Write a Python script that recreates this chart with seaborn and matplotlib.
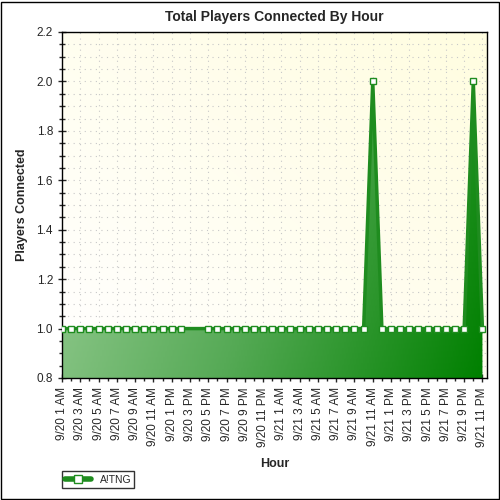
import numpy as np
import pandas as pd
import matplotlib
matplotlib.use('Agg')
import matplotlib.pyplot as plt
import seaborn as sns
from matplotlib.colors import LinearSegmentedColormap
from matplotlib.ticker import MultipleLocator
from matplotlib.lines import Line2D

def hour_label(day, h):
    ampm = 'AM' if h < 12 else 'PM'
    hh = h % 12
    if hh == 0:
        hh = 12
    return '9/%d %d %s' % (day, hh, ampm)

hours = [hour_label(20, h) for h in range(1, 24)] + [hour_label(21, h) for h in range(0, 24)]
players = [1.0] * 47
players[34] = 2.0
players[45] = 2.0
# no samples at 9/20 3 PM and 4 PM
marker_vals = list(players)
marker_vals[14] = np.nan
marker_vals[15] = np.nan

df = pd.DataFrame({'x': np.arange(len(hours)), 'y': players, 'm': marker_vals})

sns.set_style('white')
plt.rcParams['font.family'] = ['Liberation Sans', 'DejaVu Sans']
fig = plt.figure(figsize=(5, 5), dpi=100)
ax = fig.add_axes([0.124, 0.244, 0.85, 0.692])
ymin, ymax = 0.8, 2.2
xmin, xmax = 0, 46.5
ax.set_xlim(xmin, xmax)
ax.set_ylim(ymin, ymax)

# background gradient
bg = LinearSegmentedColormap.from_list('bg', ['#ffffff', '#fffde0'])
gx, gy = np.meshgrid(np.linspace(0, 1, 200), np.linspace(0, 1, 200))
ax.imshow((gx + gy) / 2, cmap=bg, extent=[xmin, xmax, ymin, ymax], aspect='auto', origin='lower', zorder=0)

# fill gradient
gc = LinearSegmentedColormap.from_list('gc', ['#9ccf98', '#56aa56', '#008000'])
poly = ax.fill_between(df['x'], ymin, df['y'], color='none', zorder=1)
img = ax.imshow((gx * 0.8 + (1 - gy) * 0.2), cmap=gc, extent=[0, 46, ymin, 2.0], aspect='auto', origin='lower', zorder=1)
img.set_clip_path(poly.get_paths()[0], transform=ax.transData)

ax.grid(True, axis='x', which='major', color='#c8c8c8', linestyle=(0, (1, 4)), linewidth=0.8, zorder=0.5)
ax.grid(True, axis='y', which='both', color='#c8c8c8', linestyle=(0, (1, 4)), linewidth=0.8, zorder=0.5)
ax.set_axisbelow(True)
sns.lineplot(data=df, x='x', y='y', color='#1f8c1f', linewidth=2.5, ax=ax, zorder=2, legend=False)
ax.plot(df['x'], df['m'], linestyle='none', marker='s', markersize=5, markerfacecolor='white',
        markeredgecolor='#1f8c1f', markeredgewidth=1, zorder=3)

ax.set_xticks(np.arange(0, 47, 2))
ax.set_xticks(np.arange(0, 47, 1), minor=True)
ax.set_xticklabels(hours[::2], rotation=90, fontsize=8.5)
ax.yaxis.set_major_locator(MultipleLocator(0.2))
ax.yaxis.set_minor_locator(MultipleLocator(0.05))
ax.set_yticklabels(['%.1f' % v for v in ax.get_yticks()], fontsize=8.5)
ax.tick_params(which='both', direction='inout', length=6, width=1, bottom=True, left=True)
ax.tick_params(which='minor', length=4)
for s in ax.spines.values():
    s.set_color('black')
    s.set_linewidth(1)

ax.set_title('Total Players Connected By Hour', fontsize=10, fontweight='bold', pad=8)
ax.set_xlabel('Hour', fontsize=9, fontweight='bold', labelpad=8)
ax.set_ylabel('Players Connected', fontsize=9, fontweight='bold', labelpad=6)

handle = Line2D([], [], color='#1f8c1f', linewidth=4, marker='s', markersize=6,
                markerfacecolor='white', markeredgecolor='#1f8c1f')
ax.legend([handle], ['A!TNG'], loc='upper left', bbox_to_anchor=(-0.012, -0.255), frameon=True,
          fancybox=False, edgecolor='black', fontsize=7.5, handlelength=2.5, borderpad=0.3)
border = plt.Rectangle((0.002, 0.002), 0.995, 0.995, transform=fig.transFigure, fill=False,
                       edgecolor='black', linewidth=1)
fig.patches.append(border)
fig.savefig('out.png', dpi=100)
